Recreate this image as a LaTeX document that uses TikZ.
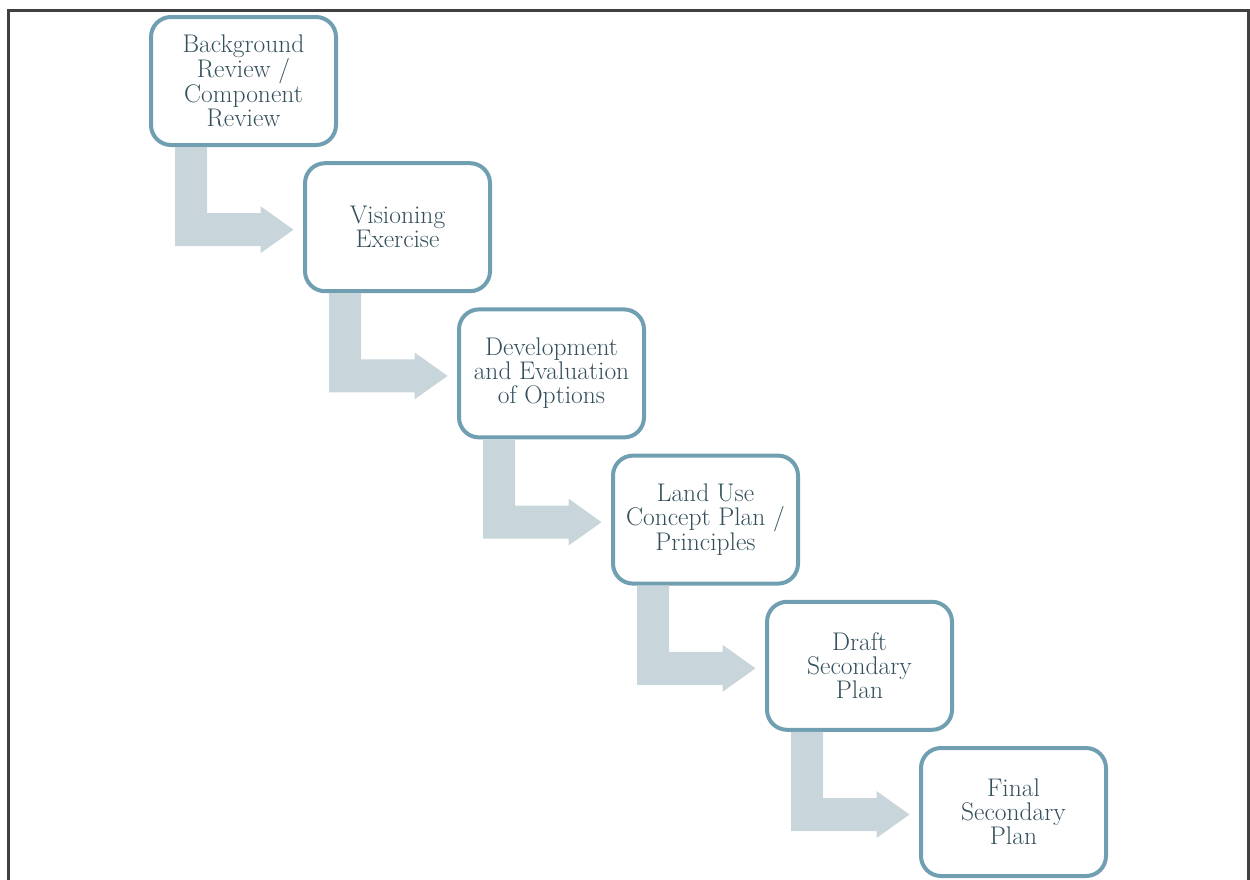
\documentclass[tikz,border=0pt]{standalone}
\usetikzlibrary{calc}
\definecolor{boxline}{HTML}{6F9FB0}
\definecolor{arrowfill}{HTML}{C8D6DC}
\definecolor{txt}{HTML}{34505C}
\definecolor{frame}{HTML}{404040}
\begin{document}
\begin{tikzpicture}[x=1pt,y=-1pt,
  stage/.style={draw=boxline,line width=4pt,fill=white,rounded corners=20pt,
    minimum width=185pt,minimum height=128pt,outer sep=0pt,inner sep=0pt,
    align=center,text=txt,font=\fontsize{25.5}{24}\selectfont},
  flow/.style={fill=arrowfill,draw=none}]
\useasboundingbox (0,0) rectangle (1250,879);
\draw[frame,line width=3pt] (8.5,890) -- (8.5,10.5) -- (1248.5,10.5) -- (1248.5,890);
% bent arrows (drawn first, boxes on top)
\path (243.5,81) coordinate (c1);
% boxes
\node[stage] (b1) at (243.5,81) {Background\\Review /\\Component\\Review};
\node[stage] (b2) at (397.5,227.2) {Visioning\\Exercise};
\node[stage] (b3) at (551.5,373.4) {Development\\and Evaluation\\of Options};
\node[stage] (b4) at (705.5,519.6) {Land Use\\Concept Plan /\\Principles};
\node[stage] (b5) at (859.5,665.8) {Draft\\Secondary\\Plan};
\node[stage] (b6) at (1013.5,812) {Final\\Secondary\\Plan};
\foreach \a/\b in {b1/b2,b2/b3,b3/b4,b4/b5,b5/b6}{
  \fill[flow]
    ($(\a.south west)+(24,2)$) -- ($(\a.south west)+(56,2)$)
    |- ($(\b.west)+(-44.5,-14)$) -- ($(\b.west)+(-44.5,-21)$)
    -- ($(\b.west)+(-11.5,2.5)$) -- ($(\b.west)+(-44.5,26)$)
    -- ($(\b.west)+(-44.5,19)$) -| cycle;
}
\end{tikzpicture}
\end{document}
